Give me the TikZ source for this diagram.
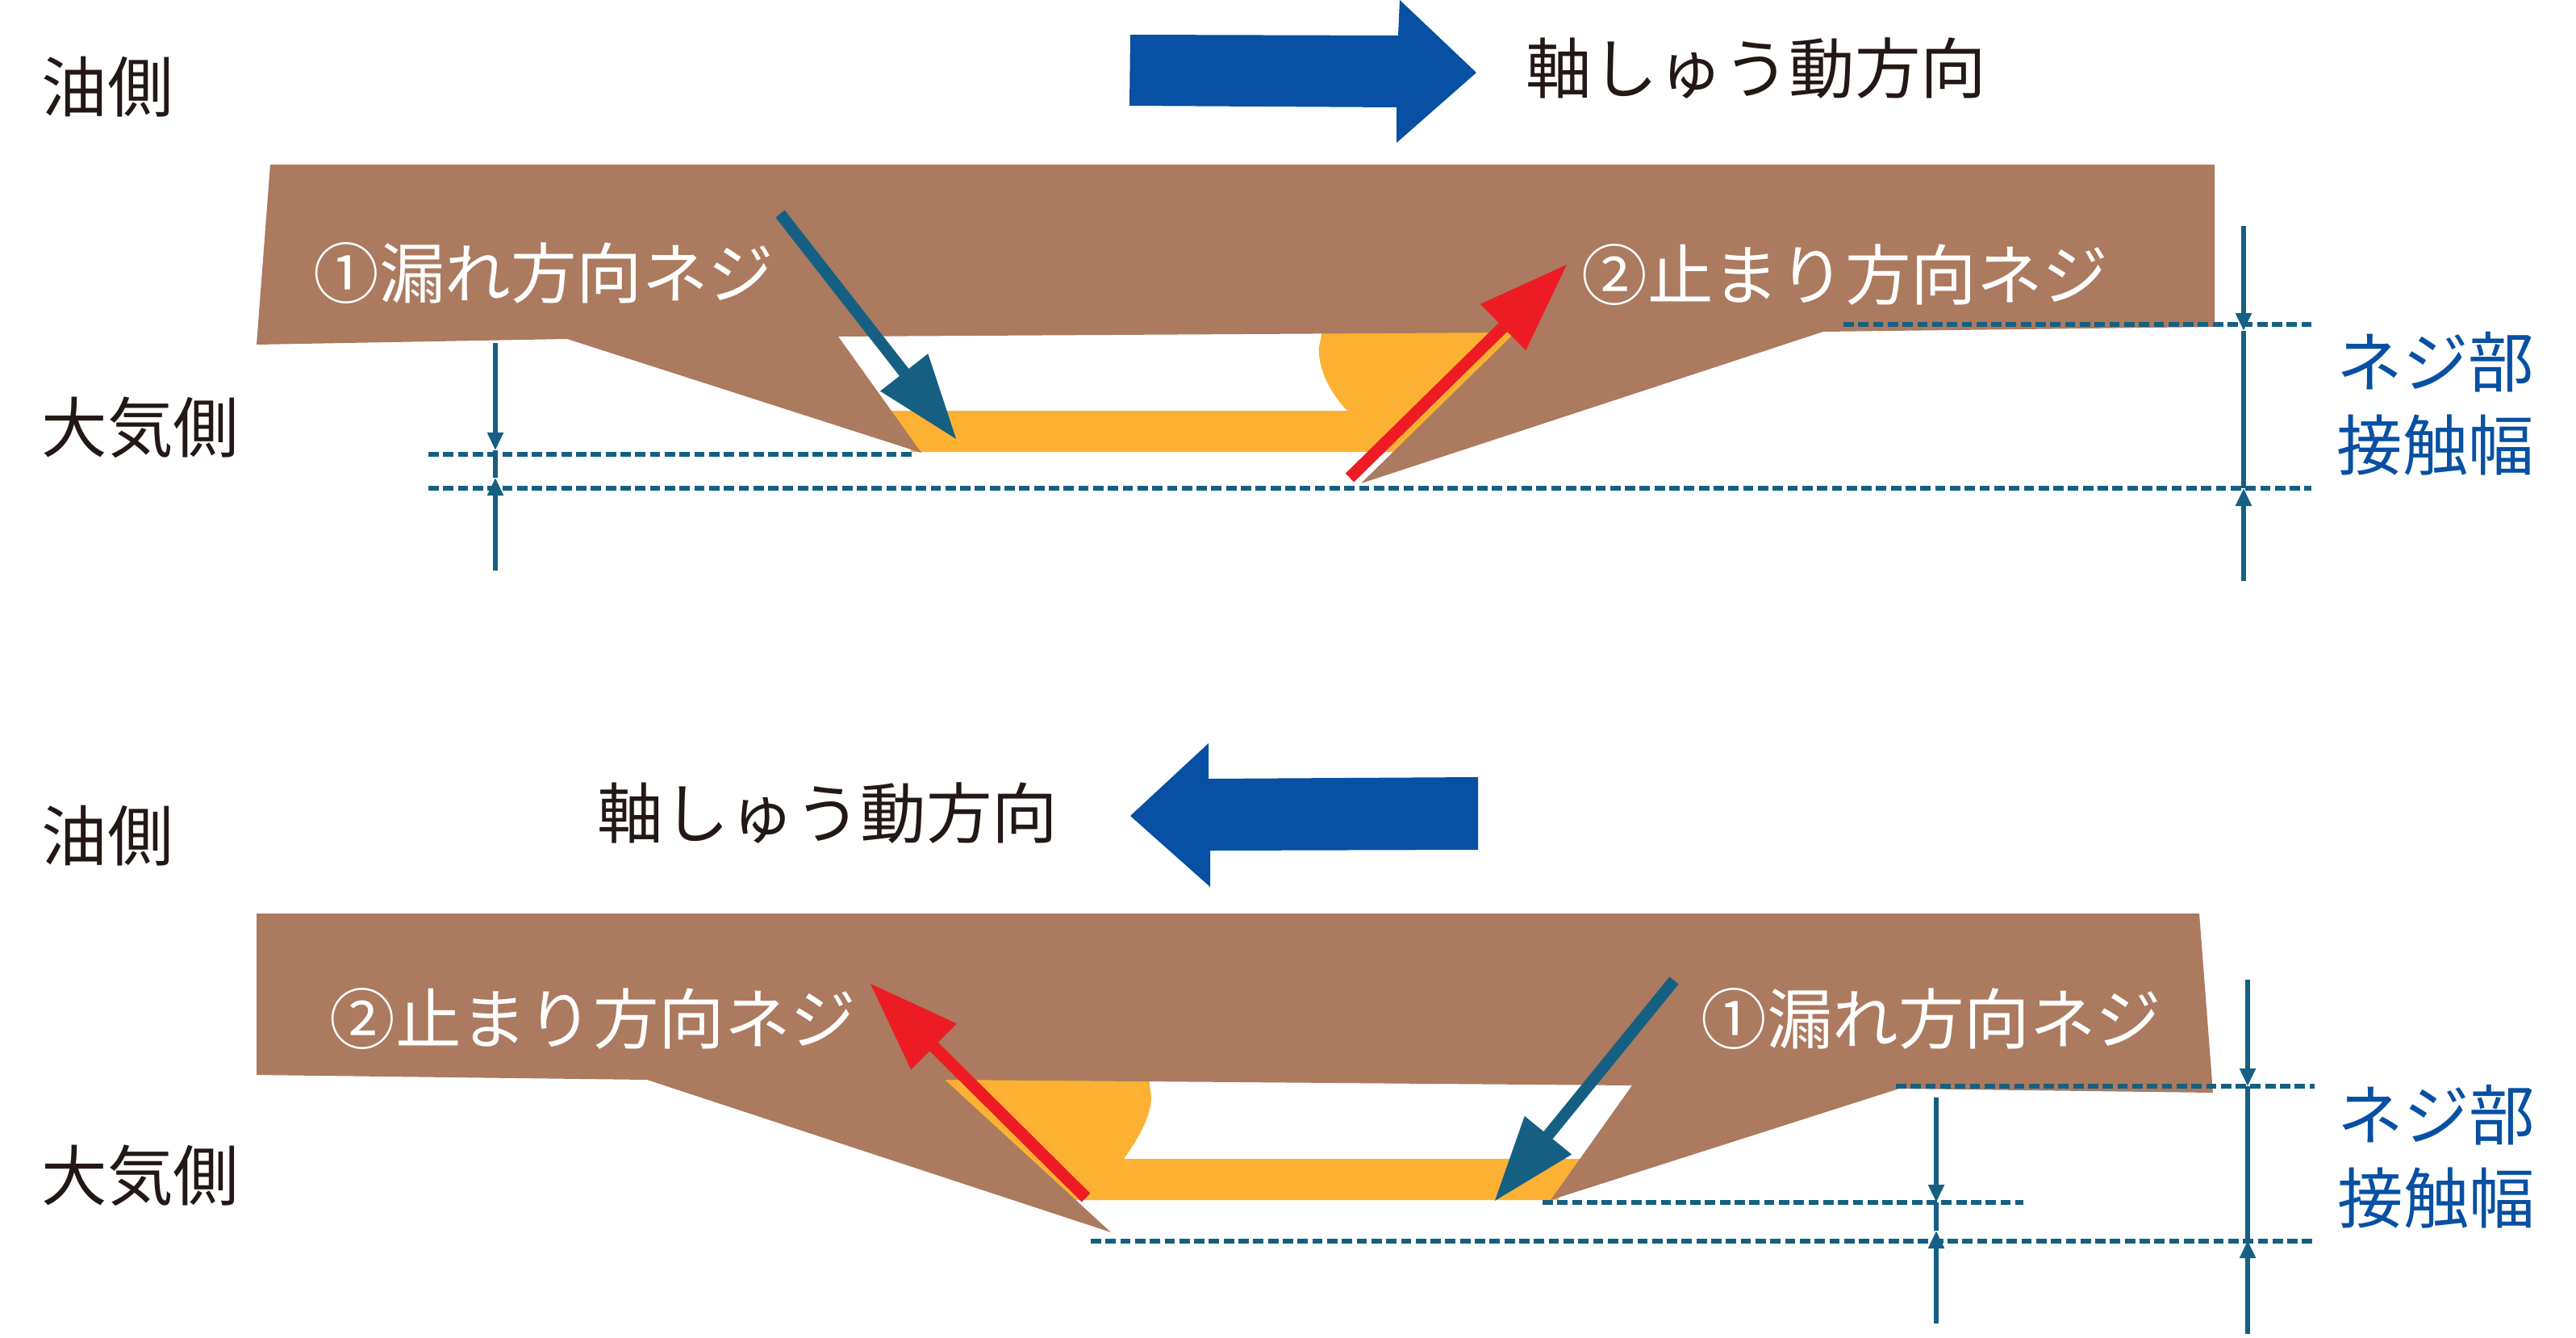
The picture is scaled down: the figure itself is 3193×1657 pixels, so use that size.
\documentclass[tikz,border=0pt]{standalone}
\usepackage{fontspec}
\setmainfont{Noto Sans CJK JP}
\usetikzlibrary{arrows.meta}
\definecolor{screwbrown}{HTML}{AB7A5F}
\definecolor{oilorange}{HTML}{FDB133}
\definecolor{dimteal}{HTML}{156082}
\definecolor{leakred}{HTML}{ED1C24}
\definecolor{axisblue}{HTML}{0750A3}
\definecolor{inkblack}{HTML}{231815}

\begin{document}
\begin{tikzpicture}
			[x=.01cm,y=-.01cm,every node/.style={inner sep=0pt,font=\fontsize{23.2}{29.3}\selectfont},
			side/.style={text=inkblack}, screw/.style={text=white}, width/.style={text=axisblue,align=center},
			seal/.style={fill=screwbrown}, oil/.style={fill=oilorange}, axis/.style={fill=axisblue},
			edge/.style={dimteal,line width=.055cm,dash pattern=on .128cm off .055cm},
			dim/.style={dimteal,line width=.052cm,-{Triangle[length=.22cm,width=.19cm]}},
			dimline/.style={dimteal,line width=.052cm},
			leak/.style={dimteal,line width=.145cm,-{Triangle[length=1.06cm,width=.71cm]}},
			stop/.style={leakred,line width=.15cm,-{Triangle[length=1.12cm,width=.76cm]}}]
			\useasboundingbox (0,0) rectangle (3193,1657);

			% upper seal
			\fill[oil] (1100,509) -- (1670,509) .. controls (1652,490) and (1633,460) .. (1635,430) -- (1640,405) -- (1900,405) -- (1727,560) -- (1130,560) -- cycle;
			\fill[seal] (335,204) -- (2745,204) -- (2745,405) -- (2260,411) -- (1687,599) -- (1878,412) -- (1039,417) -- (1142,561) -- (703,420) -- (318,427) -- cycle;

			% lower seal
			\fill[oil] (1960,1436) -- (1393,1436) .. controls (1408,1415) and (1427,1385) .. (1427,1360) -- (1424,1335) -- (1160,1330) -- (1330,1487) -- (1931,1487) -- cycle;
			\fill[seal] (318,1132) -- (2726,1132) -- (2743,1354) -- (2354,1349) -- (1922,1487) -- (2023,1345) -- (1171,1338) -- (1377,1527) -- (802,1338) -- (318,1332) -- cycle;

			% axial direction
			\fill[axis] (1401,43) -- (1733,44) -- (1735,0) -- (1830,90) -- (1731,177) -- (1731,133) -- (1400,131) -- cycle;
			\fill[axis] (1401,1011) -- (1498,921) -- (1498,965) -- (1832,963) -- (1832,1053) -- (1500,1054) -- (1500,1099) -- cycle;

			\node[side] (oilA) at (133,108) {油側};
			\node[side] (airA) at (174,530) {大気側};
			\node[side] (oilB) at (133,1036) {油側};
			\node[side] (airB) at (174,1457) {大気側};
			\node[side] (axisA) at (2177,85) {軸しゅう動方向};
			\node[side] (axisB) at (1026,1008) {軸しゅう動方向};
			\node[screw] (leakA) at (674,338) {①漏れ方向ネジ};
			\node[screw] (stopA) at (2287,340) {②止まり方向ネジ};
			\node[screw] (stopB) at (735,1262) {②止まり方向ネジ};
			\node[screw] (leakB) at (2394,1262) {①漏れ方向ネジ};
			\node[width] (widthA) at (3019,500) {ネジ部\\接触幅};
			\node[width] (widthB) at (3020,1433) {ネジ部\\接触幅};

			\coordinate (la1) at (967,265);   \coordinate (la2) at (1186,545);
			\coordinate (sa1) at (1673,592);  \coordinate (sa2) at (1943,327);
			\coordinate (lb1) at (2075,1215); \coordinate (lb2) at (1852,1489);
			\coordinate (sb1) at (1346,1484); \coordinate (sb2) at (1078,1218);
			\draw[leak] (la1) to (la2);
			\draw[stop] (sa1) to (sa2);
			\draw[leak] (lb1) to (lb2);
			\draw[stop] (sb1) to (sb2);

			% dashed levels
			\coordinate (e1) at (531,563);   \coordinate (e2) at (1130,563);
			\coordinate (e3) at (531,605);   \coordinate (e4) at (2865,605);
			\coordinate (e5) at (2285,402);  \coordinate (e6) at (2865,402);
			\coordinate (e7) at (1912,1490); \coordinate (e8) at (2508,1490);
			\coordinate (e9) at (1352,1538); \coordinate (e10) at (2869,1538);
			\coordinate (e11) at (2350,1346); \coordinate (e12) at (2869,1346);
			\foreach \from/\to in {e1/e2,e3/e4,e5/e6,e7/e8,e9/e10,e11/e12}
			\draw[edge] (\from) to (\to);

			% width marks
			\coordinate (m1) at (614,425);   \coordinate (m2) at (614,558);
			\coordinate (m3) at (614,707);   \coordinate (m4) at (614,592);
			\coordinate (m5) at (2781,280);  \coordinate (m6) at (2781,410);
			\coordinate (m7) at (2781,720);  \coordinate (m8) at (2781,605);
			\coordinate (m9) at (2400,1360); \coordinate (m10) at (2400,1490);
			\coordinate (m11) at (2400,1640); \coordinate (m12) at (2400,1525);
			\coordinate (m13) at (2786,1214); \coordinate (m14) at (2786,1346);
			\coordinate (m15) at (2786,1653); \coordinate (m16) at (2786,1537);
			\foreach \from/\to in {m1/m2,m3/m4,m5/m6,m7/m8,m9/m10,m11/m12,m13/m14,m15/m16}
			\draw[dim] (\from) to (\to);
			\foreach \from/\to in {m2/m4,m6/m8,m10/m12,m14/m16}
			\draw[dimline] (\from) to (\to);

			\end{tikzpicture}
\end{document}
